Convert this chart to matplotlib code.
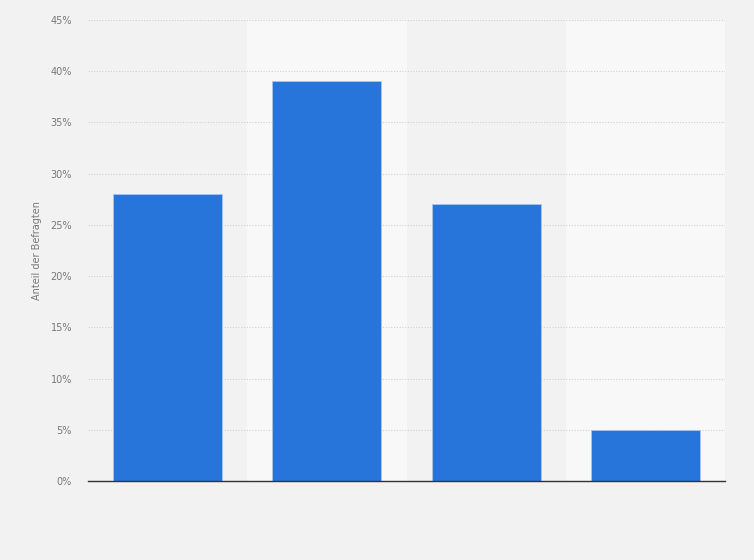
import matplotlib.pyplot as plt
from matplotlib.ticker import FuncFormatter

categories = ['A', 'B', 'C', 'D']
values = [28, 39, 27, 5]
y_ticks = [0, 5, 10, 15, 20, 25, 30, 35, 40, 45]

fig = plt.figure(figsize=(7.54, 5.6), dpi=100)
fig.patch.set_facecolor('#f2f2f2')
ax = fig.add_axes([88 / 754, 1 - 481 / 560, (725 - 88) / 754, (481 - 20) / 560])
ax.set_facecolor('#f2f2f2')

x = range(len(categories))
# alternating column bands
for i in x:
    if i % 2 == 1:
        ax.axvspan(i - 0.5, i + 0.5, color='#f8f8f8', zorder=0, lw=0)

ax.bar(x, values, width=0.685, color='#2775db', edgecolor='#a9c6ee', linewidth=0.6, zorder=3)

ax.set_xlim(-0.5, len(categories) - 0.5)
ax.set_ylim(0, 45)
ax.set_yticks(y_ticks)
ax.yaxis.set_major_formatter(FuncFormatter(lambda v, p: f'{v:.0f}%'))
ax.set_xticks([])
ax.grid(axis='y', color='#d0d0d0', linestyle=(0, (1, 1.5)), linewidth=0.8, zorder=1)
ax.tick_params(axis='y', length=0, labelsize=7, labelcolor='#777777', pad=11.5)

for s in ['top', 'right', 'left']:
    ax.spines[s].set_visible(False)
ax.spines['bottom'].set_color('#333333')
ax.spines['bottom'].set_linewidth(1.0)
ax.spines['bottom'].set_zorder(4)

ax.set_ylabel('Anteil der Befragten', fontsize=7, color='#777777', labelpad=6)

plt.savefig('out.png', dpi=100, facecolor=fig.get_facecolor())
